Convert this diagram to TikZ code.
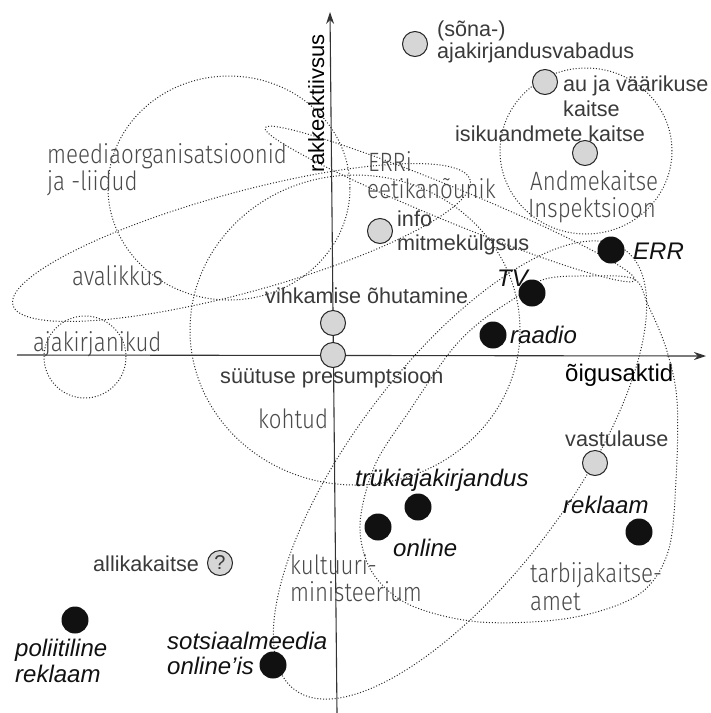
\documentclass[tikz,border=0pt]{standalone}
\usepackage{fontspec}
\setmainfont{Liberation Sans}
\newfontfamily\thinfont[FakeStretch=0.84]{Fira Sans Light}
\usetikzlibrary{arrows.meta}
\definecolor{topicgray}{HTML}{3A3A3A}
\definecolor{actorgray}{HTML}{4A4A4A}
\definecolor{ringgray}{HTML}{2A2A2A}
\definecolor{dotfill}{HTML}{D6D6D6}
\definecolor{inkblack}{HTML}{111111}
\definecolor{axisgray}{HTML}{333333}
\begin{document}
\begin{tikzpicture}[x=1pt,y=-1pt,
  region/.style={draw=ringgray, line width=1pt, dash pattern=on 1pt off 1.9pt},
  axisline/.style={draw=axisgray, line width=1.1pt, -{Stealth[length=12pt,width=8pt]}},
  topic/.style={font=\fontsize{21.6}{22}\selectfont, text=topicgray, inner sep=0pt, anchor=base west},
  media/.style={font=\fontsize{24}{25}\selectfont\itshape, text=inkblack, inner sep=0pt, anchor=base west},
  actor/.style={font=\thinfont\fontsize{26.5}{27}\selectfont, text=actorgray, inner sep=0pt, anchor=base west},
  axislabel/.style={font=\fontsize{22}{23}\selectfont, text=black, inner sep=0pt, anchor=base west},
  gdot/.style={circle, fill=dotfill, draw=black!85, line width=1pt, minimum size=25pt, inner sep=0pt},
  bdot/.style={circle, fill=inkblack, minimum size=27pt, inner sep=0pt},
]
\useasboundingbox (0,0) rectangle (711,713);

% ---- actor regions (dotted outlines) ----
% media organisations and unions
\draw[region] (229,188) ellipse [x radius=121pt, y radius=112pt];
% the public
\draw[region, rotate around={15.3:(241.5,242.5)}] (241.5,242.5) ellipse [x radius=237pt, y radius=50pt];
% journalists
\draw[region] (85,357) circle [radius=41pt];
% ERR ethics adviser
\draw[region, rotate around={-22.4:(450,204)}] (450,204) ellipse [x radius=200pt, y radius=17pt];
% data protection inspectorate
\draw[region] (586,151) ellipse [x radius=86pt, y radius=83pt];
% courts
\draw[region] (355,330) ellipse [x radius=165pt, y radius=155pt];
% ministry of culture
\draw[region, rotate around={53:(460,470)}] (460,470) ellipse [x radius=275pt, y radius=108pt];
% consumer protection board
\draw[region] plot[smooth cycle, tension=0.55] coordinates {
  (634,279) (590,276) (545,279) (515,298) (480,322) (450,352) (410,410)
  (375,465) (360,525) (372,572) (410,605) (480,622) (570,618) (638,595)
  (668,552) (676,480) (677,400) (666,348) (648,305)};

% ---- axes ----
\coordinate (ybot) at (337,713);
\coordinate (ytop) at (330,12);
\coordinate (xleft) at (17,355);
\coordinate (xright) at (706,356);
\draw[axisline] (ybot) -- (ytop);
\draw[axisline] (xleft) -- (xright);
\node[axislabel, rotate=90] (yname) at (324,173) {rakkeaktiivsus};
\node[axislabel, font=\fontsize{24}{25}\selectfont] (xname) at (565,381) {õigusaktid};

% ---- topics (grey dots) ----
\node[gdot] (vabadus) at (415,44) {};
\node[gdot] (au) at (545,82) {};
\node[gdot] (isik) at (585,153) {};
\node[gdot] (info) at (380,231) {};
\node[gdot] (vihk) at (333,323) {};
\node[gdot] (syyt) at (333,355) {};
\node[gdot] (vastu) at (595,463) {};
\node[gdot, font=\fontsize{20}{20}\selectfont, text=topicgray] (allikas) at (220,563) {?};

\node[topic] (t1a) at (437,36) {(sõna-)};
\node[topic] (t1b) at (437,58) {ajakirjandusvabadus};
\node[topic] (t2a) at (563,91) {au ja väärikuse};
\node[topic] (t2b) at (563,116) {kaitse};
\node[topic] (t3) at (455,141) {isikuandmete kaitse};
\node[topic] (t4a) at (397,226) {info};
\node[topic] (t4b) at (397,250) {mitmekülgsus};
\node[topic] (t5) at (265,303) {vihkamise õhutamine};
\node[topic] (t6) at (220,383) {süütuse presumptsioon};
\node[topic] (t7) at (565,446) {vastulause};
\node[topic] (t8) at (93,571) {allikakaitse};

% ---- media (black dots) ----
\node[bdot] (err) at (611,250) {};
\node[bdot] (tv) at (532,293) {};
\node[bdot] (raadio) at (493,335) {};
\node[bdot] (print) at (418,507) {};
\node[bdot] (online) at (378,527) {};
\node[bdot] (reklaam) at (639,532) {};
\node[bdot] (polit) at (75,620) {};
\node[bdot] (sots) at (273,665) {};

\node[media] (m1) at (633,259) {ERR};
\node[media] (m2) at (497,286) {TV};
\node[media] (m3) at (510,343) {raadio};
\node[media] (m4) at (355,486) {trükiajakirjandus};
\node[media] (m5) at (393,556) {online};
\node[media] (m6) at (563,513) {reklaam};
\node[media] (m7a) at (15,656) {poliitiline};
\node[media] (m7b) at (15,682) {reklaam};
\node[media] (m8a) at (167,649) {sotsiaalmeedia};
\node[media] (m8b) at (167,674) {online’is};

% ---- actors ----
\node[actor] (a1a) at (47,163) {meediaorganisatsioonid};
\node[actor] (a1b) at (47,190) {ja -liidud};
\node[actor] (a2) at (72,285) {avalikkus};
\node[actor] (a3) at (33,351) {ajakirjanikud};
\node[actor] (a4a) at (368,171) {ERRi};
\node[actor] (a4b) at (367,198) {eetikanõunik};
\node[actor] (a5a) at (530,190) {Andmekaitse};
\node[actor] (a5b) at (528,217) {Inspektsioon};
\node[actor] (a6) at (258,428) {kohtud};
\node[actor] (a7a) at (290,574) {kultuuri-};
\node[actor] (a7b) at (290,601) {ministeerium};
\node[actor] (a8a) at (530,582) {tarbijakaitse-};
\node[actor] (a8b) at (530,610) {amet};
\end{tikzpicture}
\end{document}
